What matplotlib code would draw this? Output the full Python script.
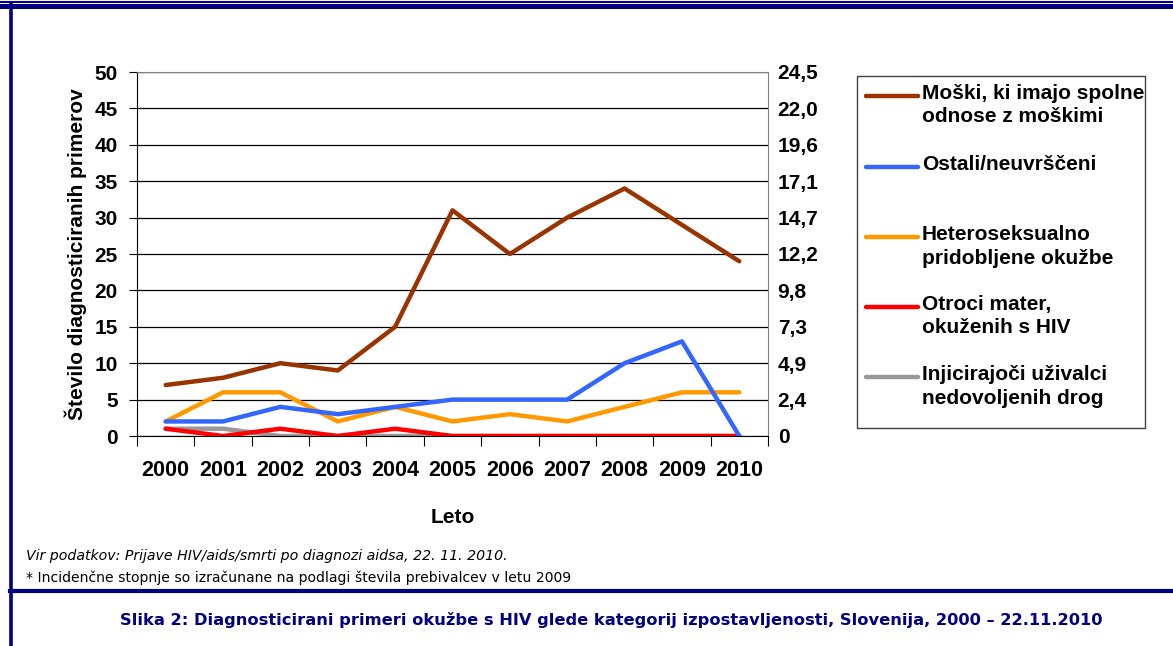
import numpy as np
import matplotlib.pyplot as plt
from matplotlib.lines import Line2D
from matplotlib.patches import Rectangle

years = ['2000', '2001', '2002', '2003', '2004', '2005', '2006', '2007', '2008', '2009', '2010']
moski = [7, 8, 10, 9, 15, 31, 25, 30, 34, 29, 24]
ostali = [2, 2, 4, 3, 4, 5, 5, 5, 10, 13, 0]
hetero = [2, 6, 6, 2, 4, 2, 3, 2, 4, 6, 6]
otroci = [1, 0, 1, 0, 1, 0, 0, 0, 0, 0, 0]
injic = [1, 1, 0, 0, 0, 0, 0, 0, 0, 0, 0]

left_ticks = [0, 5, 10, 15, 20, 25, 30, 35, 40, 45, 50]
right_labels = ['0', '2,4', '4,9', '7,3', '9,8', '12,2', '14,7', '17,1', '19,6', '22,0', '24,5']

labels = ['Moški, ki imajo spolne\nodnose z moškimi', 'Ostali/neuvrščeni',
          'Heteroseksualno\npridobljene okužbe', 'Otroci mater,\nokuženih s HIV',
          'Injicirajoči uživalci\nnedovoljenih drog']
colors = ['#993300', '#3366FF', '#FF9900', '#FF0000', '#999999']

plt.rcParams['font.family'] = ['Liberation Sans', 'DejaVu Sans']
navy = '#000080'
fs = 15

W, H = 1173, 646
fig = plt.figure(figsize=(W / 100, H / 100), dpi=100)

ax = fig.add_axes([137 / W, 1 - 436 / H, (768 - 137) / W, (436 - 72) / H])
x = np.arange(len(years))

# draw back to front so the brown line is on top
series = [moski, ostali, hetero, otroci, injic]
for s, c, z in zip(series, colors, [6, 5, 4, 3, 2]):
    ax.plot(x, s, color=c, lw=3.2, solid_capstyle='round', zorder=z)

ax.set_xlim(-0.5, len(years) - 0.5)
ax.set_ylim(0, 50)
ax.set_yticks(left_ticks)
ax.set_yticklabels([str(t) for t in left_ticks])
ax.yaxis.grid(True, color='black', lw=0.9)
ax.set_axisbelow(True)

ax.set_xticks(np.arange(-0.5, len(years), 1.0))
ax.set_xticklabels([])
ax.set_xticks(x, minor=True)
ax.set_xticklabels(years, minor=True)
ax.tick_params(axis='x', which='major', length=7, direction='out', color='black')
ax.tick_params(axis='x', which='minor', length=0, pad=17)
ax.tick_params(axis='y', length=6, direction='out', pad=8)
for lab in ax.get_xticklabels(minor=True):
    lab.set_fontsize(15.5)
    lab.set_fontweight('bold')
for lab in ax.get_yticklabels():
    lab.set_fontsize(fs)
    lab.set_fontweight('bold')

ax.spines['top'].set_color('#808080')
ax.spines['right'].set_color('#808080')
ax.spines['left'].set_color('black')
ax.spines['bottom'].set_color('black')

ax.set_ylabel('Število diagnosticiranih primerov', fontsize=fs, fontweight='bold', labelpad=5)
ax.set_xlabel('Leto', fontsize=fs, fontweight='bold', labelpad=20)

ax2 = ax.twinx()
ax2.set_ylim(0, 24.5)
ax2.set_yticks(np.linspace(0, 24.5, len(right_labels)))
ax2.set_yticklabels(right_labels, fontsize=fs, fontweight='bold')
ax2.tick_params(axis='y', length=0, pad=7)
for sp in ax2.spines.values():
    sp.set_visible(False)

# legend box
fig.patches.append(Rectangle((857 / W, 1 - 428 / H), (1145 - 857) / W, (428 - 76) / H,
                             transform=fig.transFigure, fill=False, ec='#404040', lw=1))
ys = [96, 167, 237, 307, 377]
for yy, lab, c in zip(ys, labels, colors):
    fig.add_artist(Line2D([866 / W, 918 / W], [1 - yy / H] * 2, color=c, lw=3.2,
                          solid_capstyle='round', transform=fig.transFigure))
    fig.text(922 / W, 1 - (yy - 12) / H, lab, fontsize=fs, fontweight='bold',
             va='top', ha='left', linespacing=1.3)

# page frame
fig.add_artist(Line2D([0, 1], [1 - 1.5 / H] * 2, color=navy, lw=1.5, transform=fig.transFigure))
fig.add_artist(Line2D([0, 1], [1 - 6 / H] * 2, color=navy, lw=3.6, transform=fig.transFigure))
fig.add_artist(Line2D([10.5 / W] * 2, [0, 1 - 4 / H], color=navy, lw=2.6, transform=fig.transFigure))
fig.add_artist(Line2D([10 / W, 1], [1 - 591 / H] * 2, color=navy, lw=3.0, transform=fig.transFigure))

fig.text(26 / W, 1 - 556 / H, 'Vir podatkov: Prijave HIV/aids/smrti po diagnozi aidsa, 22. 11. 2010.',
         fontsize=10.2, style='italic', family='DejaVu Sans', va='center')
fig.text(26 / W, 1 - 578 / H, '* Incidenčne stopnje so izračunane na podlagi števila prebivalcev v letu 2009',
         fontsize=10.1, family='DejaVu Sans', va='center')
fig.text(611 / W, 1 - 620 / H,
         'Slika 2: Diagnosticirani primeri okužbe s HIV glede kategorij izpostavljenosti, Slovenija, 2000 – 22.11.2010',
         fontsize=11.7, fontweight='bold', family='DejaVu Sans', color=navy, ha='center', va='center')

fig.savefig('out.png', dpi=100)
